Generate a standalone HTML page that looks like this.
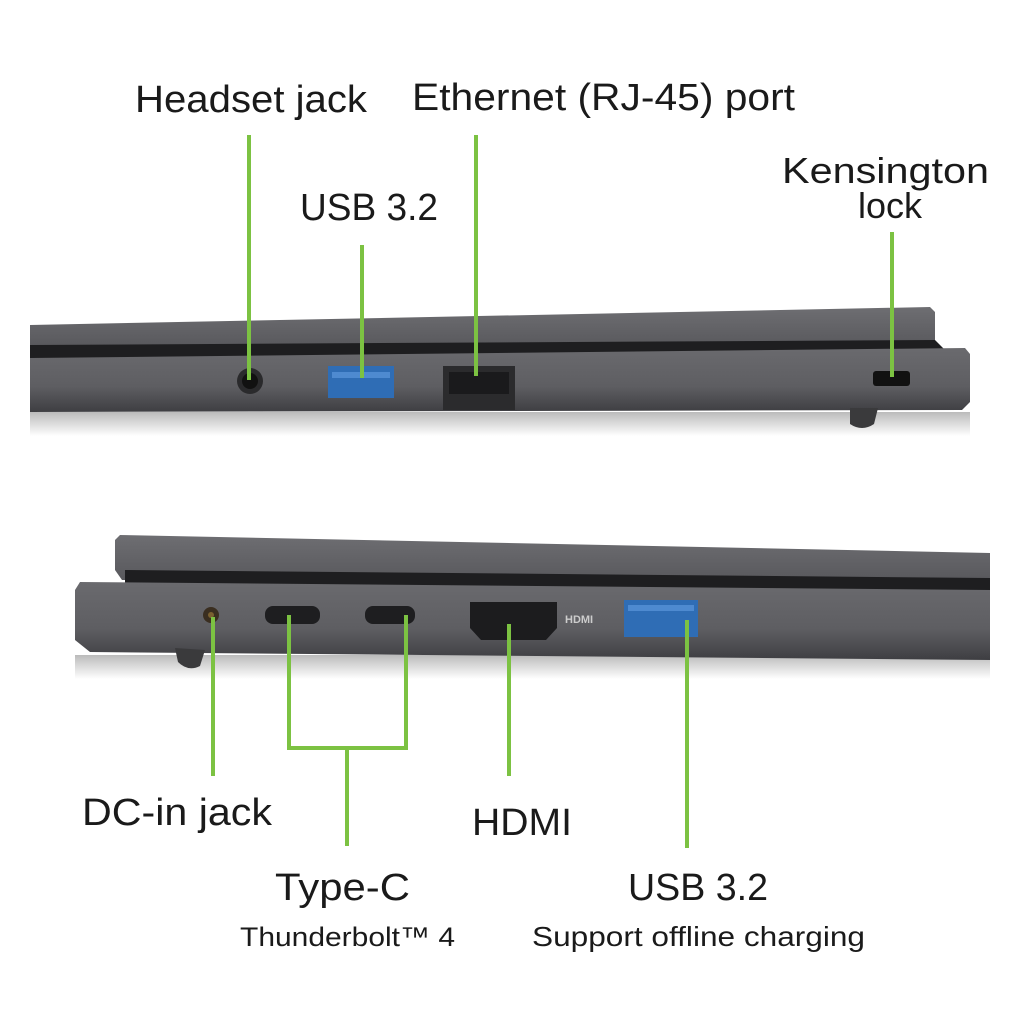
<!DOCTYPE html><html><head><style>body{margin:0;background:#fff}svg{display:block}text{font-family:"Liberation Sans",sans-serif;fill:#1a1a1a}</style></head><body>
<svg width="1024" height="1024" viewBox="0 0 1024 1024">
<defs>
<linearGradient id="lid" x1="0" y1="0" x2="0" y2="1"><stop offset="0" stop-color="#6e6e72"/><stop offset="1" stop-color="#58585c"/></linearGradient>
<linearGradient id="base" x1="0" y1="0" x2="0" y2="1"><stop offset="0" stop-color="#6a6a6e"/><stop offset="0.6" stop-color="#5e5e62"/><stop offset="1" stop-color="#3e3e42"/></linearGradient>
<linearGradient id="sh" x1="0" y1="0" x2="0" y2="1"><stop offset="0" stop-color="#bbb"/><stop offset="1" stop-color="#fff"/></linearGradient>
</defs>
<rect x="30" y="412" width="940" height="24" fill="url(#sh)"/>
<polygon points="30,325 930,307 935,312 935,345 30,348" fill="url(#lid)"/>
<polygon points="30,345 935,340 945,350 30,362" fill="#1e1e20"/>
<polygon points="30,358 965,348 970,354 970,402 962,410 30,412" fill="url(#base)"/>
<path d="M850 408 L878 408 L874 424 Q862 432 850 424 Z" fill="#3a3a3c"/>
<circle cx="250" cy="381" r="13" fill="#2a2a2c"/><circle cx="250" cy="381" r="8" fill="#111"/>
<rect x="328" y="366" width="66" height="32" fill="#2f6db5"/><rect x="332" y="372" width="58" height="6" fill="#4e8ad0"/>
<rect x="443" y="366" width="72" height="44" fill="#2b2b2d"/><rect x="449" y="372" width="60" height="22" fill="#1a1a1c"/>
<rect x="873" y="371" width="37" height="15" rx="3" fill="#111"/>
<g stroke="#7cc242" stroke-width="4" fill="none">
<line x1="249" y1="135" x2="249" y2="380"/><line x1="362" y1="245" x2="362" y2="378"/>
<line x1="476" y1="135" x2="476" y2="376"/><line x1="892" y1="232" x2="892" y2="377"/>
</g>
<text x="135" y="112" font-size="38" textLength="232" lengthAdjust="spacingAndGlyphs">Headset jack</text>
<text x="412" y="110" font-size="38" textLength="383" lengthAdjust="spacingAndGlyphs">Ethernet (RJ-45) port</text>
<text x="300" y="220" font-size="38" textLength="138" lengthAdjust="spacingAndGlyphs">USB 3.2</text>
<text x="782" y="183" font-size="36" textLength="207" lengthAdjust="spacingAndGlyphs">Kensington</text>
<text x="890" y="218" font-size="36" text-anchor="middle">lock</text>
<rect x="75" y="655" width="915" height="24" fill="url(#sh)"/>
<polygon points="120,535 990,553 990,582 122,580 115,570 115,540" fill="url(#lid)"/>
<polygon points="125,570 990,578 990,595 125,583" fill="#1e1e20"/>
<polygon points="80,582 990,590 990,660 90,652 75,640 75,590" fill="url(#base)"/>
<path d="M175 648 L205 650 L200 666 Q188 672 178 662 Z" fill="#3a3a3c"/>
<circle cx="211" cy="615" r="8" fill="#3a2e20"/><circle cx="211" cy="615" r="3" fill="#7a6030"/>
<rect x="265" y="606" width="55" height="18" rx="8" fill="#1e1e20"/>
<rect x="365" y="606" width="50" height="18" rx="8" fill="#1e1e20"/>
<path d="M470 602 L557 602 L557 628 L546 640 L481 640 L470 628 Z" fill="#1c1c1e"/>
<rect x="624" y="600" width="74" height="37" fill="#2f6db5"/><rect x="628" y="605" width="66" height="6" fill="#4e8ad0"/>
<text x="565" y="623" font-size="11" style="fill:#ccc" font-weight="bold">HDMI</text>
<g stroke="#7cc242" stroke-width="4" fill="none">
<line x1="213" y1="617" x2="213" y2="776"/>
<polyline points="289,615 289,748 406,748 406,615"/>
<line x1="347" y1="748" x2="347" y2="846"/>
<line x1="509" y1="624" x2="509" y2="776"/>
<line x1="687" y1="620" x2="687" y2="848"/>
</g>
<text x="82" y="825" font-size="38" textLength="190" lengthAdjust="spacingAndGlyphs">DC-in jack</text>
<text x="472" y="835" font-size="38" textLength="100" lengthAdjust="spacingAndGlyphs">HDMI</text>
<text x="275" y="900" font-size="38" textLength="135" lengthAdjust="spacingAndGlyphs">Type-C</text>
<text x="240" y="946" font-size="27" textLength="215" lengthAdjust="spacingAndGlyphs">Thunderbolt™ 4</text>
<text x="628" y="900" font-size="38" textLength="140" lengthAdjust="spacingAndGlyphs">USB 3.2</text>
<text x="532" y="946" font-size="28" textLength="333" lengthAdjust="spacingAndGlyphs">Support offline charging</text>
</svg></body></html>
